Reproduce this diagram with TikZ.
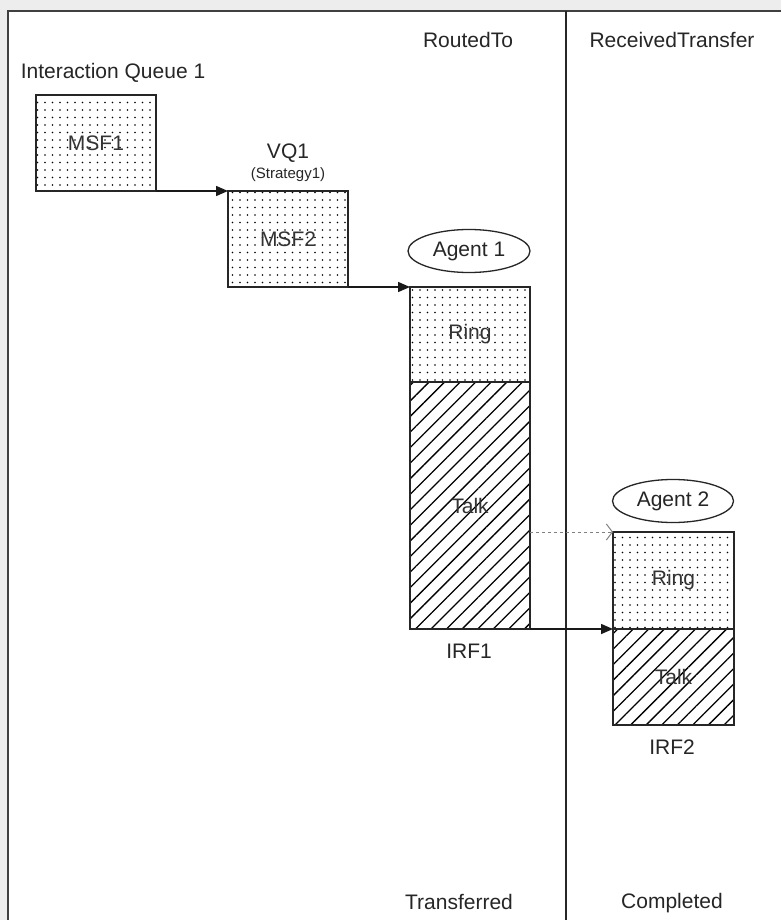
\documentclass[tikz,border=0pt]{standalone}
\usepackage{fontspec}
\setmainfont{Liberation Sans}
\usetikzlibrary{arrows.meta,shapes.geometric,patterns.meta}

\begin{document}
\begin{tikzpicture}[x=1pt,y=-1pt,
 lane/.style={font=\fontsize{21}{25}\selectfont,text=black!85,inner sep=0pt},
 seg/.style={draw=black!85,line width=1.6pt,minimum width=120pt,inner sep=0pt,outer sep=0pt,
 font=\fontsize{21}{25}\selectfont,text=black!80},
 ringbox/.style={seg,pattern={Dots[distance=7.5pt,radius=0.9pt]}},
 talkbox/.style={seg,pattern={Lines[angle=45,distance=11pt,line width=1.3pt]}},
 agent/.style={ellipse,draw=black!85,line width=1.3pt,minimum width=122pt,
 minimum height=43pt,inner sep=0pt,font=\fontsize{21}{25}\selectfont,text=black!85},
 flow/.style={-{Triangle[length=12pt,width=10pt]},line width=1.5pt,draw=black!90},
 hint/.style={-{Straight Barb[length=6pt,width=16pt]},dashed,draw=black!50,line width=1pt}]
\useasboundingbox (0,0) rectangle (781,920);
\fill[black!7] (0,0) rectangle (781,920);
\fill[white] (8,11) rectangle (781,920);
\draw[black!75,line width=2pt] (8,920) -- (8,11) -- (781,11);
\draw[black!85,line width=1.6pt] (566,11) -- (566,920);

% lanes
\node[lane] (routed) at (468,40) {RoutedTo};
\node[lane] (received) at (672,40) {ReceivedTransfer};
\node[lane] (transferred) at (459,902) {Transferred};
\node[lane] (completed) at (672,903) {Completed};

% queues
\node[lane] (iq) at (113,73) {Interaction Queue 1};
\node[ringbox,minimum height=96pt] (msf1) at (96,143) {MSF1};
\node[lane] (vq) at (288,153) {VQ1};
\node[lane,font=\fontsize{15}{18}\selectfont] (strategy) at (288,175) {(Strategy1)};
\node[ringbox,minimum height=96pt] (msf2) at (288,239) {MSF2};

% agent 1
\node[agent] (agent1) at (469,251) {Agent 1};
\node[ringbox,minimum height=95pt] (ring1) at (470,334.5) {Ring};
\node[talkbox,minimum height=247pt] (talk1) at (470,505.5) {Talk};
\node[lane] (irf1) at (469,651) {IRF1};

% agent 2
\node[agent,minimum width=121pt] (agent2) at (673,501) {Agent 2};
\node[ringbox,minimum width=121pt,minimum height=97pt] (ring2) at (673.5,580.5) {Ring};
\node[talkbox,minimum width=121pt,minimum height=96pt] (talk2) at (673.5,677) {Talk};
\node[lane] (irf2) at (672,747) {IRF2};

\draw[flow] (msf1.south east) -- (msf2.north west);
\draw[flow] (msf2.south east) -- (ring1.north west);
\draw[hint] (ring2.north west -| talk1.east) -- (ring2.north west);
\draw[flow] (talk1.south east) -- (talk2.north west);
\end{tikzpicture}
\end{document}
